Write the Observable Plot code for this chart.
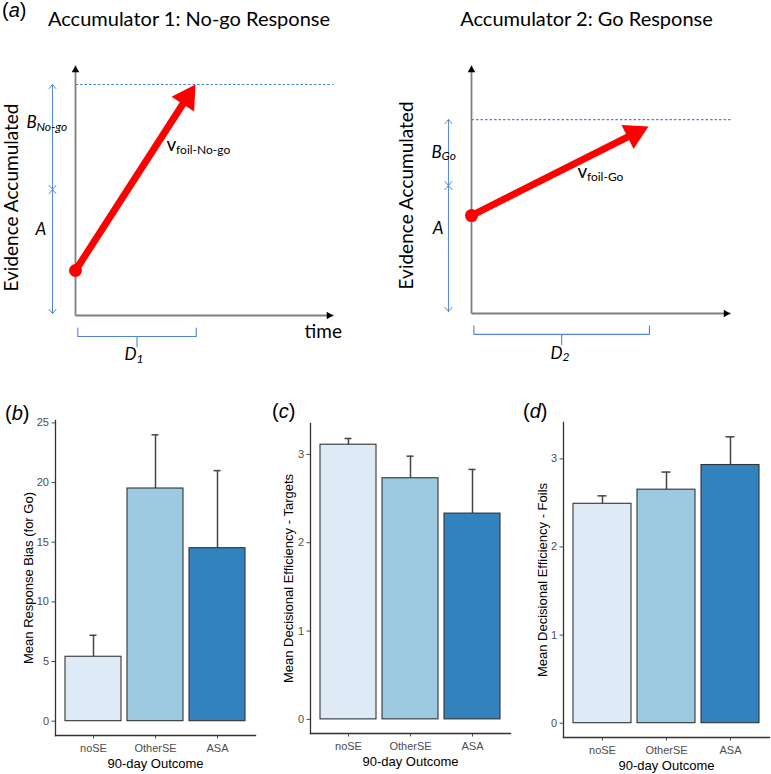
<!DOCTYPE html>
<html><head><meta charset="utf-8">
<script src="https://cdn.jsdelivr.net/npm/d3@7"></script>
<script src="https://cdn.jsdelivr.net/npm/@observablehq/plot@0.6"></script>
<style>
body{margin:0;background:#fff;}
#fig{position:relative;width:771px;height:774px;background:#fff;overflow:hidden;}
.panel{position:absolute;}
</style></head><body><div id="fig"></div>
<script>
// ---------- data: bar charts ----------
const outcomes = ["noSE", "OtherSE", "ASA"];
const barColors = ["#deebf7", "#9ecae1", "#3182bd"];
const biasMean = [5.4, 19.5, 14.5];
const biasUpper = [7.2, 24.0, 21.0];
const targetMean = [3.11, 2.73, 2.33];
const targetUpper = [3.18, 2.98, 2.83];
const foilMean = [2.49, 2.65, 2.93];
const foilUpper = [2.58, 2.85, 3.25];
const biasTicks = [0, 5, 10, 15, 20, 25];
const effTicks = [0, 1, 2, 3];
const xTitle = "90-day Outcome";
const yTitles = ["Mean Response Bias (for Go)", "Mean Decisional Efficiency - Targets", "Mean Decisional Efficiency - Foils"];
const panelLetters = ["a", "b", "c", "d"];

// ---------- data: accumulator schematics (abstract units 0–100) ----------
const accTitles = ["Accumulator 1: No-go Response", "Accumulator 2: Go Response"];
const accStart = [18, 39.5];          // starting point
const accATop = [50.4, 51.6];         // top of start-point range A
const accThreshold = [92.4, 78.2];    // threshold (A + B)
const accEndTime = [46.5, 68.3];      // arrow end (time)
const accEndEvidence = [92.4, 75.4];  // arrow end (evidence)
const accBraceEnd = [46.8, 68.7];     // non-decision time D
const accBSub = ["No-go", "Go"];
const accVSub = ["foil-No-go", "foil-Go"];
const accDSub = ["1", "2"];
const yAxisTitle = "Evidence Accumulated";
const timeLabel = "time";

const fig = document.getElementById("fig");
const SCHEM_FONT = "Lato, 'Open Sans', sans-serif";
const GG_FONT = "'Liberation Sans', Arial, sans-serif";
const blue = "#4f86d9";

function place(node, left, top) {
  const d = document.createElement("div");
  d.className = "panel";
  d.style.left = left + "px";
  d.style.top = top + "px";
  d.appendChild(node);
  fig.appendChild(d);
}

function txt(x, y, t, o) {
  return Plot.text([t], {x: () => x, y: () => y, text: d => d, textAnchor: "start",
    lineAnchor: "middle", fontFamily: SCHEM_FONT, fill: "black", ...o});
}

function accumulator(i, dims, L) {
  const s = accStart[i], a = accATop[i], b = accThreshold[i];
  const ex = accEndTime[i], ey = accEndEvidence[i];
  const bx = -8.9;
  const bMid = (a + b) / 2, aMid = (a + 0.8) / 2;
  const ranges = [
    {x: bx, y1: bMid, y2: b}, {x: bx, y1: bMid, y2: a},
    {x: bx, y1: aMid, y2: a}, {x: bx, y1: aMid, y2: 0.8}
  ];
  const d0 = 0.9, d1 = accBraceEnd[i], dm = (d0 + d1) / 2;
  const brace = [[d0, -5], [d0, -8.4], [dm, -8.4], [dm, -12.5], [dm, -8.4], [d1, -8.4], [d1, -5]];
  // direction of the drift arrow in screen pixels (for the filled head)
  const kx = (dims.width - dims.marginLeft - dims.marginRight) / 100;
  const ky = (dims.height - dims.marginTop - dims.marginBottom) / 100;
  const px = ex * kx, py = -(ey - s) * ky;
  const len = Math.hypot(px, py), ux = px / len, uy = py / len;
  const ang = Math.atan2(ux, -uy) * 180 / Math.PI;
  const headR = 10;
  const back = 2 * Math.sqrt(Math.PI * headR * headR / (Math.sqrt(3) * 3));
  const marks = [
    Plot.link([{x1: 0, x2: 100, y: b}], {x1: "x1", x2: "x2", y1: "y", y2: "y",
      stroke: blue, strokeWidth: 1.2, strokeDasharray: "2.5,2"}),
    Plot.link([{x1: 0, y1: 0, x2: 0, y2: 100}, {x1: 0, y1: 0, x2: 100, y2: 0}],
      {x1: "x1", y1: "y1", x2: "x2", y2: "y2", stroke: "#7f7f7f", strokeWidth: 1.8}),
    Plot.dot([{x: 0, y: 100}], {x: "x", y: "y", symbol: "triangle", r: 2.8, fill: "black", dy: 4.6}),
    Plot.dot([{x: 100, y: 0}], {x: "x", y: "y", symbol: "triangle", rotate: 90, r: 2.8, fill: "black", dx: -4.6}),
    Plot.arrow(ranges, {x1: "x", x2: "x", y1: "y1", y2: "y2", stroke: blue, strokeWidth: 1, headLength: 8, headAngle: 80}),
    Plot.line(brace, {x: d => d[0], y: d => d[1], stroke: blue, strokeWidth: 1.1, strokeLinejoin: "round"}),
    Plot.arrow([{x1: 0, y1: s, x2: ex, y2: ey}],
      {x1: "x1", y1: "y1", x2: "x2", y2: "y2", stroke: "#ff0000", strokeWidth: 7, headLength: 0, insetEnd: back * 1.3}),
    Plot.dot([{x: ex, y: ey}], {x: "x", y: "y", symbol: "triangle", r: headR, rotate: ang, fill: "#ff0000",
      dx: -back * ux, dy: -back * uy}),
    Plot.dot([{x: 0, y: s}], {x: "x", y: "y", r: 6.5, fill: "#ff0000"}),
    txt(L.yTitle[0], L.yTitle[1], yAxisTitle, {rotate: -90, textAnchor: "middle", fontSize: 19}),
    txt(L.B[0], L.B[1], "B", {fontStyle: "italic", fontSize: 17}),
    txt(L.B[0], L.B[1], accBSub[i], {fontStyle: "italic", fontSize: 12, dx: 10, dy: 4}),
    txt(L.A[0], L.A[1], "A", {fontStyle: "italic", fontSize: 17}),
    txt(L.v[0], L.v[1], "v", {fontSize: 19}),
    txt(L.v[0], L.v[1], accVSub[i], {fontSize: 12, dx: 9.5, dy: 5}),
    txt(L.D[0], L.D[1], "D", {fontStyle: "italic", fontSize: 17}),
    txt(L.D[0], L.D[1], accDSub[i], {fontStyle: "italic", fontSize: 12, dx: 12, dy: 4})
  ];
  if (L.time) marks.push(txt(L.time[0], L.time[1], timeLabel, {fontSize: 19}));
  return Plot.plot({
    ...dims,
    x: {domain: [0, 100], axis: null},
    y: {domain: [0, 100], axis: null},
    style: {background: "transparent", overflow: "visible"},
    marks
  });
}

place(accumulator(0,
  {width: 380, height: 370, marginLeft: 75, marginRight: 47, marginTop: 65, marginBottom: 55},
  {yTitle: [-24.8, 47.2], B: [-19, 77], A: [-15.5, 34.2], v: [35.3, 68.2], D: [19, -15.8], time: [88.8, -6.4]}), 0, 0);
place(accumulator(1,
  {width: 391, height: 370, marginLeft: 91, marginRight: 41, marginTop: 65, marginBottom: 57},
  {yTitle: [-25.1, 47.6], B: [-15.4, 65.1], A: [-15, 34.4], v: [40.9, 57], D: [30.5, -16]}), 380, 0);

// ---------- bar charts ----------
function barChart(means, uppers, yDomain, ticks, yTitle, dims, yTitleDx) {
  const rows = outcomes.map((o, k) => ({outcome: o, mean: means[k], upper: uppers[k]}));
  return Plot.plot({
    ...dims,
    height: 404,
    x: {domain: outcomes, paddingInner: 0.1, paddingOuter: 0.15, label: null},
    y: {domain: yDomain, label: null},
    color: {domain: outcomes, range: barColors},
    style: {background: "transparent", overflow: "visible", fontFamily: GG_FONT},
    marks: [
      Plot.ruleX(rows, {x: "outcome", y1: "mean", y2: "upper", stroke: "#444", strokeWidth: 1.5}),
      Plot.tickY(rows, {x: "outcome", y: "upper", stroke: "#444", strokeWidth: 1.5, insetLeft: 24.5, insetRight: 24.5}),
      Plot.barY(rows, {x: "outcome", y: "mean", fill: "outcome", stroke: "#333", strokeWidth: 1.1}),
      Plot.axisY({ticks, tickFormat: d3.format("d"), tickSize: 3.5, tickPadding: 3, fontSize: 11,
        fontFamily: GG_FONT, color: "#4d4d4d", label: null}),
      Plot.axisX({tickSize: 3.5, tickPadding: 5, fontSize: 11, fontFamily: GG_FONT, color: "#4d4d4d", label: null}),
      Plot.frame({anchor: "left", stroke: "#333", strokeWidth: 1.3}),
      Plot.frame({anchor: "bottom", stroke: "#333", strokeWidth: 1.3}),
      Plot.text([yTitle], {frameAnchor: "left", rotate: -90, textAnchor: "middle", lineAnchor: "middle",
        dx: yTitleDx, fontSize: 13, fontFamily: GG_FONT, fill: "black", text: d => d}),
      Plot.text([xTitle], {frameAnchor: "bottom", textAnchor: "middle", lineAnchor: "middle",
        dy: 28, fontSize: 13, fontFamily: GG_FONT, fill: "black", text: d => d})
    ]
  });
}

place(barChart(biasMean, biasUpper, [-1.2, 25.2], biasTicks, yTitles[0],
  {width: 258, marginLeft: 55, marginRight: 3, marginTop: 50, marginBottom: 39}, -27), 0, 370);
place(barChart(targetMean, targetUpper, [-0.16, 3.35], effTicks, yTitles[1],
  {width: 258, marginLeft: 55, marginRight: 3, marginTop: 53, marginBottom: 41}, -22), 255, 370);
place(barChart(foilMean, foilUpper, [-0.1625, 3.4125], effTicks, yTitles[2],
  {width: 261, marginLeft: 53, marginRight: 2, marginTop: 52, marginBottom: 37}, -21), 510, 370);

// ---------- titles and panel letters ----------
const ov = d3.select(fig).append("svg")
  .attr("width", 771).attr("height", 774)
  .style("position", "absolute").style("left", 0).style("top", 0);
const titlePos = [[189, 26], [586.5, 26]];
accTitles.forEach((t, k) => {
  ov.append("text").attr("x", titlePos[k][0]).attr("y", titlePos[k][1])
    .attr("text-anchor", "middle").attr("font-family", SCHEM_FONT).attr("font-size", 20).text(t);
});
const letterPos = [[2, 17], [5, 420], [272, 418], [523, 418]];
panelLetters.forEach((l, k) => {
  const t = ov.append("text").attr("x", letterPos[k][0]).attr("y", letterPos[k][1])
    .attr("font-family", GG_FONT).attr("font-size", 20);
  t.append("tspan").text("(");
  t.append("tspan").attr("font-style", "italic").text(l);
  t.append("tspan").text(")");
});
</script></body></html>
